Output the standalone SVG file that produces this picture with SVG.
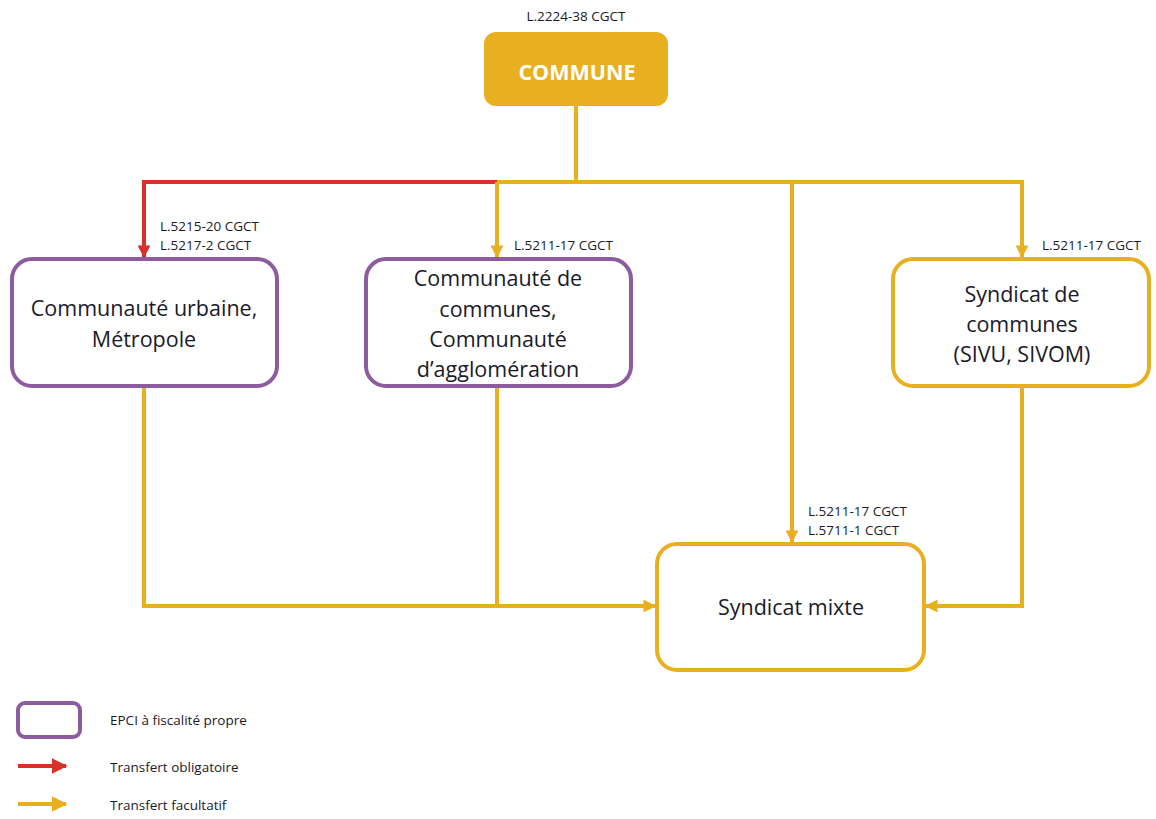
<svg xmlns="http://www.w3.org/2000/svg" width="1156" height="819" viewBox="0 0 1156 819">
<defs>
<marker id="ay" viewBox="0 0 10 10" refX="9" refY="5" markerWidth="3.2" markerHeight="3.2" orient="auto" markerUnits="strokeWidth"><path d="M0,0 L10,5 L0,10 z" fill="#E8B020"/></marker>
<marker id="ar" viewBox="0 0 10 10" refX="9" refY="5" markerWidth="3.2" markerHeight="3.2" orient="auto" markerUnits="strokeWidth"><path d="M0,0 L10,5 L0,10 z" fill="#D9302A"/></marker>
<marker id="lay" viewBox="0 0 10 10" refX="9" refY="5" markerWidth="4" markerHeight="4" orient="auto" markerUnits="strokeWidth"><path d="M0,0 L10,5 L0,10 z" fill="#E8B020"/></marker>
<marker id="lar" viewBox="0 0 10 10" refX="9" refY="5" markerWidth="4" markerHeight="4" orient="auto" markerUnits="strokeWidth"><path d="M0,0 L10,5 L0,10 z" fill="#D9302A"/></marker>
</defs>
<style>
.y{fill:none;stroke:#E8B020;stroke-width:4}
.r{fill:none;stroke:#D9302A;stroke-width:4}
.pb{fill:#fff;stroke:#8D5C9E;stroke-width:4}
.yb{fill:#fff;stroke:#E8B020;stroke-width:4}
.t{font-family:"Open Sans","Liberation Sans",sans-serif;font-size:21.5px;fill:#1a1a2a;text-anchor:middle}
.s{font-family:"Open Sans","Liberation Sans",sans-serif;font-size:13.5px;fill:#1a1a2a}
.l{font-family:"Open Sans","Liberation Sans",sans-serif;font-size:13.5px;fill:#1a1a2a}
</style>
<rect width="1156" height="819" fill="#fff"/>
<g id="connectors">
<path class="y" d="M576,106 V182"/>
<path class="r" d="M497,182 H144 V257" marker-end="url(#ar)"/>
<path class="y" d="M497,182 H1022 V257" marker-end="url(#ay)"/>
<path class="y" d="M497,182 V257" marker-end="url(#ay)"/>
<path class="y" d="M792,182 V542" marker-end="url(#ay)"/>
<path class="y" d="M144,388 V606 H655" marker-end="url(#ay)"/>
<path class="y" d="M497,388 V606"/>
<path class="y" d="M1022,388 V606 H926" marker-end="url(#ay)"/>
</g>
<g id="commune">
<text class="s" x="576" y="21" text-anchor="middle">L.2224-38 CGCT</text>
<rect x="484" y="32" width="184" height="74" rx="12" fill="#E8B020"/>
<text x="577" y="80" font-family="'Open Sans','Liberation Sans',sans-serif" font-size="21.5" font-weight="bold" fill="#fff" text-anchor="middle">COMMUNE</text>
</g>
<g id="cu">
<text class="s" x="160" y="231">L.5215-20 CGCT</text>
<text class="s" x="160" y="250">L.5217-2 CGCT</text>
<rect class="pb" x="12" y="259" width="265" height="127" rx="20"/>
<text class="t" x="144" y="316">Communauté urbaine,</text>
<text class="t" x="144" y="347">Métropole</text>
</g>
<g id="cc">
<text class="s" x="514" y="250">L.5211-17 CGCT</text>
<rect class="pb" x="366" y="259" width="265" height="127" rx="20"/>
<text class="t" x="498" y="286">Communauté de</text>
<text class="t" x="498" y="317">communes,</text>
<text class="t" x="498" y="347">Communauté</text>
<text class="t" x="498" y="377">d’agglomération</text>
</g>
<g id="sc">
<text class="s" x="1042" y="250">L.5211-17 CGCT</text>
<rect class="yb" x="893" y="259" width="256" height="127" rx="20"/>
<text class="t" x="1022" y="302">Syndicat de</text>
<text class="t" x="1022" y="332">communes</text>
<text class="t" x="1022" y="362">(SIVU, SIVOM)</text>
</g>
<g id="sm">
<text class="s" x="808" y="516">L.5211-17 CGCT</text>
<text class="s" x="808" y="535">L.5711-1 CGCT</text>
<rect class="yb" x="657" y="544" width="267" height="126" rx="20"/>
<text class="t" x="791" y="615">Syndicat mixte</text>
</g>
<g id="legend">
<rect x="18" y="703" width="62" height="34" rx="7" fill="#fff" stroke="#8D5C9E" stroke-width="4"/>
<text class="l" x="110" y="725">EPCI à fiscalité propre</text>
<path class="r" d="M18,766 H66" marker-end="url(#lar)"/>
<text class="l" x="110" y="772">Transfert obligatoire</text>
<path class="y" d="M18,804 H66" marker-end="url(#lay)"/>
<text class="l" x="110" y="810">Transfert facultatif</text>
</g>
</svg>
